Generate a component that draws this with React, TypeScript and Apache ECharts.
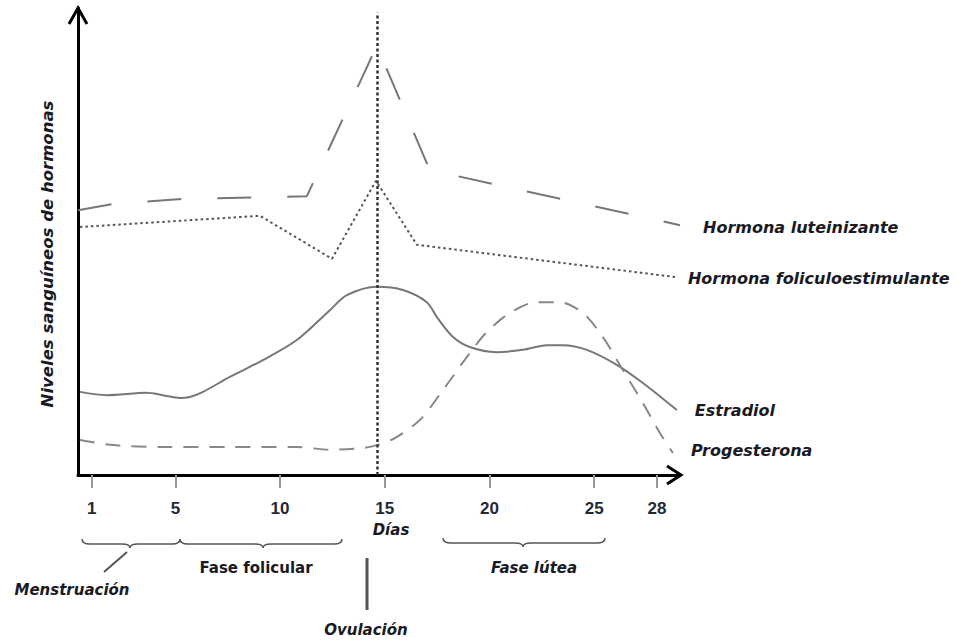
import React, { useEffect, useRef } from "react";
import * as echarts from "echarts";

// ---- data (day of cycle, relative hormone level 0-100) ----
const tickDays = [1, 5, 10, 15, 20, 25, 28];
const ovulationDay = 14.62;

const lhDays = [0.35, 1.97, 5.36, 11.28, 14.62, 17.15, 29.1];
const lhLevels = [56.7, 58.0, 59.1, 59.7, 91.9, 65.3, 53.5];

const fshDays = [0.44, 9.04, 12.48, 14.58, 16.53, 28.86];
const fshLevels = [53.1, 55.5, 46.3, 63.0, 49.3, 42.4];

const estDays = [0.44, 1.73, 3.64, 4.4, 5.22, 5.69, 6.32, 7.6, 9.18, 10.8, 12.38, 13.19, 14.62, 15.87, 17.01, 17.49, 18.25, 19.06, 20.35, 21.59, 22.74, 23.51, 24.65, 26.08, 27.33, 28.95];
const estLevels = [17.8, 17.1, 17.6, 17.1, 16.5, 16.7, 17.8, 21.0, 24.6, 28.9, 35.3, 38.5, 40.3, 39.6, 37.0, 33.8, 29.6, 27.4, 26.3, 26.8, 27.8, 27.8, 26.8, 23.6, 19.7, 13.9];

const progDays = [0.44, 2.02, 4.4, 7.6, 10.8, 12.38, 13.96, 14.62, 15.48, 16.68, 17.78, 19.06, 19.87, 20.97, 22.26, 23.36, 24.46, 25.41, 26.37, 27.33, 28.14, 28.76];
const progLevels = [7.5, 6.4, 6.0, 6.0, 6.0, 5.4, 5.8, 6.4, 7.9, 11.8, 18.2, 26.1, 30.6, 34.7, 37.0, 37.0, 34.7, 29.6, 22.5, 15.4, 9.0, 4.7];

const seriesNames = ["Hormona luteinizante", "Hormona foliculoestimulante", "Estradiol", "Progesterona"];
const yTitle = "Niveles sanguíneos de hormonas";
const xTitle = "Días";
const phaseLabels = ["Menstruación", "Fase folicular", "Ovulación", "Fase lútea"];

const zip = (xs: number[], ys: number[]) => xs.map((x, i) => [x, ys[i]]);

const bracePath =
  "M82 539 Q82 544 90 544 L122 544 Q130 544 130 548 Q130 544 138 544 L172 544 Q180 544 180 539 " +
  "M180 539 Q180 544 188 544 L255 544 Q263 544 263 548 Q263 544 271 544 L334 544 Q342 544 342 539 " +
  "M443 538 Q443 543 451 543 L515 543 Q523 543 523 547 Q523 543 531 543 L597 543 Q605 543 605 538";

let registered = false;

const labelFont = "'DejaVu Sans', sans-serif";
const textColor = "#1a1a24";

export default function App() {
  const ref = useRef<HTMLDivElement>(null);
  useEffect(() => {
    if (!ref.current) return;
    if (!registered) {
      echarts.graphic.registerShape("brace", echarts.graphic.extendPath(bracePath, {}));
      registered = true;
    }
    const chart = echarts.init(ref.current, null, { renderer: "svg" });
    const endLabel = (distance: number, dy: number) => ({
      show: true,
      formatter: "{a}",
      distance,
      offset: [0, dy],
      fontFamily: labelFont,
      fontStyle: "italic",
      fontWeight: "bold",
      fontSize: 16,
      color: textColor,
    });
    const txt = (text: string, x: number, y: number, italic: boolean) => ({
      type: "text",
      x,
      y,
      style: {
        text,
        fontFamily: labelFont,
        fontStyle: italic ? "italic" : "normal",
        fontWeight: "bold",
        fontSize: 15,
        fill: textColor,
        align: "center",
        verticalAlign: "middle",
      },
    });
    chart.setOption({
      animation: false,
      backgroundColor: "#fff",
      grid: { left: 78, right: 275, top: 8, bottom: 165 },
      xAxis: {
        type: "value",
        min: 0.35,
        max: 29.1,
        axisLine: { show: true, lineStyle: { color: "#000", width: 3 } },
        axisTick: { show: true, customValues: tickDays, length: 13, lineStyle: { color: "#999", width: 2 } },
        axisLabel: {
          show: true,
          customValues: tickDays,
          margin: 25,
          fontFamily: "'Liberation Sans Narrow', 'Liberation Sans', sans-serif",
          fontWeight: "bold",
          fontSize: 17,
          color: "#1e2a38",
        },
        splitLine: { show: false },
      },
      yAxis: {
        type: "value",
        min: 0,
        max: 100,
        axisLine: { show: true, lineStyle: { color: "#000", width: 3 } },
        axisTick: { show: false },
        axisLabel: { show: false },
        splitLine: { show: false },
      },
      series: [
        {
          name: seriesNames[0],
          type: "line",
          data: zip(lhDays, lhLevels),
          showSymbol: false,
          symbol: "none",
          clip: false,
          lineStyle: { color: "#777", width: 2, type: [34, 36] },
          endLabel: endLabel(23, 2),
        },
        {
          name: seriesNames[1],
          type: "line",
          data: zip(fshDays, fshLevels),
          showSymbol: false,
          symbol: "none",
          clip: false,
          lineStyle: { color: "#555", width: 2, type: [2.5, 3] },
          endLabel: endLabel(13, 2),
        },
        {
          name: seriesNames[2],
          type: "line",
          data: zip(estDays, estLevels),
          smooth: 0.3,
          showSymbol: false,
          symbol: "none",
          clip: false,
          lineStyle: { color: "#777", width: 2 },
          endLabel: endLabel(18, 0),
          markLine: {
            silent: true,
            symbol: ["none", "none"],
            label: { show: false },
            lineStyle: { type: [3, 2.5], color: "#333", width: 2.5 },
            data: [[{ coord: [ovulationDay, 0] }, { coord: [ovulationDay, 99] }]],
          },
        },
        {
          name: seriesNames[3],
          type: "line",
          data: zip(progDays, progLevels),
          smooth: 0.3,
          showSymbol: false,
          symbol: "none",
          clip: false,
          lineStyle: { color: "#888", width: 2, type: [15, 11] },
          endLabel: endLabel(18, -3),
        },
      ],
      graphic: [
        { type: "polyline", shape: { points: [[69, 24], [78, 8], [87, 24]] }, style: { stroke: "#000", lineWidth: 3, fill: null } },
        { type: "polyline", shape: { points: [[667, 466], [681, 475], [667, 484]] }, style: { stroke: "#000", lineWidth: 3, fill: null } },
        {
          type: "text",
          x: 47,
          y: 254,
          rotation: Math.PI / 2,
          style: {
            text: yTitle,
            fontFamily: labelFont,
            fontStyle: "italic",
            fontWeight: "bold",
            fontSize: 16.5,
            fill: textColor,
            align: "center",
            verticalAlign: "middle",
          },
        },
        txt(xTitle, 391, 530, true),
        { type: "brace", x: 0, y: 0, style: { fill: null, stroke: "#555", lineWidth: 1.5 } },
        { type: "line", shape: { x1: 127, y1: 552, x2: 104, y2: 572 }, style: { stroke: "#555", lineWidth: 2 } },
        { type: "line", shape: { x1: 367, y1: 558, x2: 367, y2: 610 }, style: { stroke: "#555", lineWidth: 3 } },
        txt(phaseLabels[0], 72, 590, true),
        txt(phaseLabels[1], 256, 568, false),
        txt(phaseLabels[2], 366, 630, true),
        txt(phaseLabels[3], 534, 568, true),
      ],
    });
    return () => chart.dispose();
  }, []);
  return <div ref={ref} style={{ width: 955, height: 640, position: "absolute", left: 0, top: 0 }} />;
}
